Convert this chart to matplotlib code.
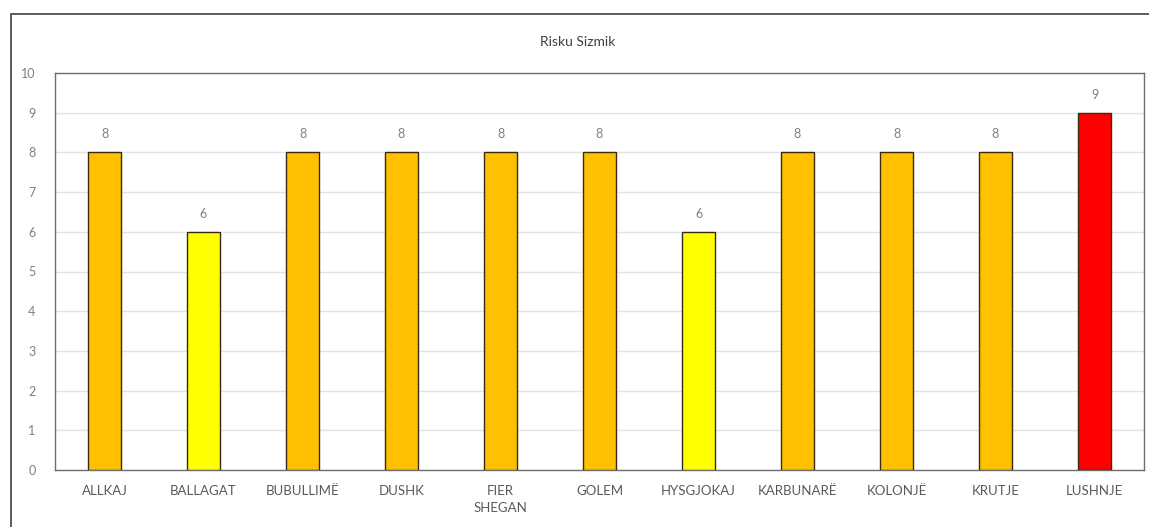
import matplotlib
matplotlib.use("Agg")
import matplotlib.pyplot as plt
from matplotlib.patches import Rectangle

categories = ["ALLKAJ", "BALLAGAT", "BUBULLIMË", "DUSHK", "FIER\nSHEGAN", "GOLEM",
              "HYSGJOKAJ", "KARBUNARË", "KOLONJË", "KRUTJE", "LUSHNJE"]
risk = [8, 6, 8, 8, 8, 8, 6, 8, 8, 8, 9]
colors = ["#FFC000", "#FFFF00", "#FFC000", "#FFC000", "#FFC000", "#FFC000",
          "#FFFF00", "#FFC000", "#FFC000", "#FFC000", "#FF0000"]

plt.rcParams["font.family"] = ["Lato", "DejaVu Sans"]

fig = plt.figure(figsize=(11.49, 5.27), dpi=100)
# outer chart border
fig.add_artist(Rectangle((11 / 1149, -0.01), 1.0, 1 - 14 / 527 + 0.01,
                         transform=fig.transFigure, fill=False,
                         edgecolor="#404040", linewidth=1.2))

ax = fig.add_axes([55 / 1149, 1 - 470 / 527, (1144 - 55) / 1149, (470 - 73) / 527])
x = range(len(categories))
bars = ax.bar(x, risk, width=0.34, color=colors, edgecolor="#3a2a10", linewidth=1.0, zorder=3)
for b, v in zip(bars, risk):
    ax.text(b.get_x() + b.get_width() / 2, v + 0.3, str(v), ha="center", va="bottom",
            fontsize=9, color="#808080")

ax.set_xlim(-0.5, len(categories) - 0.5)
ax.set_ylim(0, 10)
ax.set_yticks(range(0, 11))
ax.set_xticks(list(x))
ax.set_xticklabels(categories, fontsize=9.5, color="#595959", linespacing=1.5)
ax.tick_params(axis="y", length=0, labelsize=9, labelcolor="#808080", pad=14)
ax.tick_params(axis="x", length=0, pad=11)
ax.grid(axis="y", color="#e3e3e3", linewidth=1.0, zorder=0)
for s in ax.spines.values():
    s.set_color("#6e6e6e")
    s.set_linewidth(1.0)

fig.text(578 / 1149, 1 - 42 / 527, "Risku Sizmik", ha="center", va="center",
         fontsize=10, color="#404040")

fig.savefig("out.png", dpi=100)
